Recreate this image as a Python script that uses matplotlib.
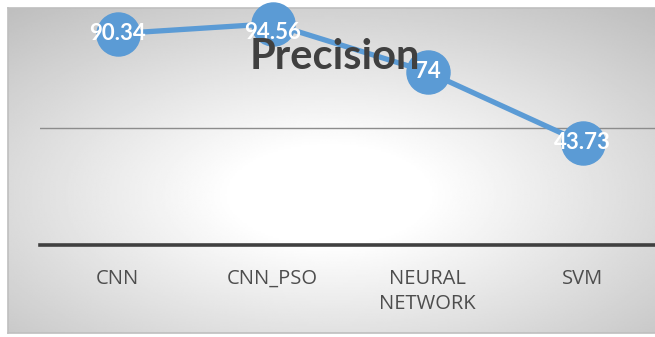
import matplotlib
matplotlib.use("Agg")
import matplotlib.pyplot as plt
import numpy as np

categories = ["CNN", "CNN_PSO", "NEURAL\nNETWORK", "SVM"]
precision = [90.34, 94.56, 74, 43.73]
value_labels = ["90.34", "94.56", "74", "43.73"]

W, H = 655, 337
fig = plt.figure(figsize=(W / 100, H / 100), dpi=100)
fig.patch.set_facecolor("white")

# radial gradient background of the chart area
bg = fig.add_axes([8 / W, 4 / H, 1.0, 325 / H])
yy, xx = np.mgrid[1:-1:200j, -1:1:400j]
d = np.sqrt((xx + 0.02) ** 2 + (yy + 0.15) ** 2)
shade = 1 - 0.21 * np.clip((d - 0.3) / 1.0, 0, None)
bg.imshow(shade, cmap="gray", vmin=0, vmax=1, aspect="auto",
          extent=[0, 1, 0, 1], interpolation="bilinear")
for s in bg.spines.values():
    s.set_color("#bfbfbf")
    s.set_linewidth(1.2)
bg.set_xticks([])
bg.set_yticks([])

ax = fig.add_axes([40 / W, (H - 245) / H, 620 / W, 234 / H])
ax.set_facecolor("none")
x = np.arange(len(categories))
ax.set_xlim(-0.5, 3.5)
ax.set_ylim(0, 100)

ax.axhline(50, color="#8c8c8c", lw=1.0, zorder=1)
ax.axhline(0, color="#404040", lw=2.6, zorder=2, clip_on=False)

ax.plot(x, precision, color="#5b9bd5", lw=3.8, marker="o", markersize=31,
        markerfacecolor="#5b9bd5", markeredgecolor="#5b9bd5",
        zorder=3, clip_on=False)

fig.text(335 / W, 1 - 57 / H, "Precision", ha="center", va="center",
         fontsize=30, fontweight="bold", color="#404040",
         family=["Lato", "DejaVu Sans"], zorder=5)

for xi, yi, lab in zip(x, precision, value_labels):
    ax.text(xi, min(yi, 91), lab, ha="center", va="center", color="white",
            fontsize=16, fontweight="bold", family=["Lato", "DejaVu Sans"],
            zorder=6, clip_on=False)

ax.set_xticks(x)
ax.set_xticklabels(categories, fontsize=14.5, color="#4d4d4d",
                   family=["Open Sans", "DejaVu Sans"], linespacing=1.35,
                   va="top")
ax.tick_params(axis="x", length=0, pad=17)
ax.set_yticks([])
for s in ax.spines.values():
    s.set_visible(False)

fig.savefig("out.png", dpi=100)
